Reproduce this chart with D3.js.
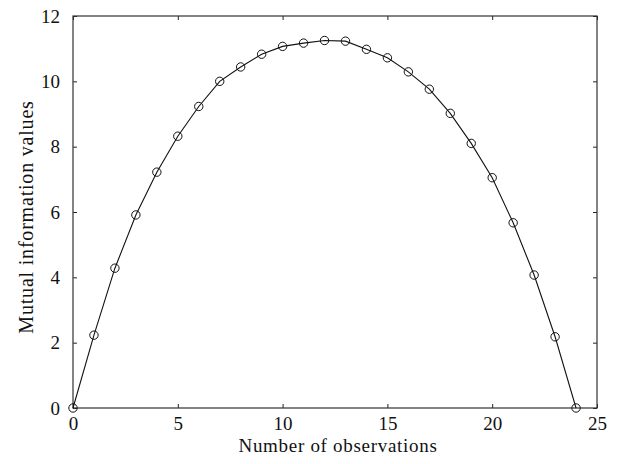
<!DOCTYPE html>
<html>
<head>
<meta charset="utf-8">
<script src="https://cdn.jsdelivr.net/npm/d3@7/dist/d3.min.js"></script>
<style>
  body { margin: 0; background: #fff; }
  svg text { font-family: "Liberation Serif", "DejaVu Serif", serif; fill: #111; }
</style>
</head>
<body>
<svg id="chart" width="619" height="464"></svg>
<script>
// observation count vs. mutual information
var observations = [0,1,2,3,4,5,6,7,8,9,10,11,12,13,14,15,16,17,18,19,20,21,22,23,24];
var miValues = [0, 2.23, 4.28, 5.91, 7.22, 8.32, 9.23, 10.0, 10.44, 10.83, 11.07, 11.17, 11.25, 11.23,
                10.98, 10.72, 10.29, 9.76, 9.02, 8.10, 7.05, 5.67, 4.07, 2.18, 0];
var xTicks = [0, 5, 10, 15, 20, 25];
var yTicks = [0, 2, 4, 6, 8, 10, 12];

var margin = { top: 16, right: 22, bottom: 56, left: 73 },
    width = 619 - margin.left - margin.right,
    height = 464 - margin.top - margin.bottom;

var svg = d3.select("#chart");
var g = svg.append("g")
  .attr("transform", "translate(" + margin.left + "," + margin.top + ")");

var x = d3.scaleLinear().domain([0, 25]).range([0, width]);
var y = d3.scaleLinear().domain([0, 12]).range([height, 0]);

var tickLen = 4;

// bottom axis, ticks point inward
var xAxis = g.append("g")
  .attr("transform", "translate(0," + height + ")")
  .call(d3.axisBottom(x).tickValues(xTicks).tickSize(-tickLen).tickPadding(8.5));
// left axis
var yAxis = g.append("g")
  .call(d3.axisLeft(y).tickValues(yTicks).tickSize(-tickLen).tickPadding(13));
// mirrored ticks on top and right
var xTop = g.append("g")
  .call(d3.axisTop(x).tickValues(xTicks).tickSize(-tickLen).tickFormat(""));
var yRight = g.append("g")
  .attr("transform", "translate(" + width + ",0)")
  .call(d3.axisRight(y).tickValues(yTicks).tickSize(-tickLen).tickFormat(""));

[xAxis, yAxis, xTop, yRight].forEach(function(a) {
  a.select(".domain").remove();
  a.selectAll(".tick line").attr("stroke", "#222").attr("stroke-width", 1);
  a.selectAll(".tick text").style("font-size", "19px").attr("fill", "#111");
});

// frame
g.append("rect")
  .attr("x", 0).attr("y", 0)
  .attr("width", width).attr("height", height)
  .attr("fill", "none")
  .attr("stroke", "#333")
  .attr("stroke-width", 1.2);

var line = d3.line()
  .x(function(d, i) { return x(observations[i]); })
  .y(function(d) { return y(d); });

g.append("path")
  .datum(miValues)
  .attr("d", line)
  .attr("fill", "none")
  .attr("stroke", "#111")
  .attr("stroke-width", 1.1);

g.selectAll(".pt")
  .data(miValues)
  .enter()
  .append("circle")
  .attr("class", "pt")
  .attr("cx", function(d, i) { return x(observations[i]); })
  .attr("cy", function(d) { return y(d); })
  .attr("r", 4.2)
  .attr("fill", "none")
  .attr("stroke", "#111")
  .attr("stroke-width", 1);

// axis titles
svg.append("text")
  .attr("x", 338)
  .attr("y", 452)
  .attr("text-anchor", "middle")
  .style("font-size", "19px")
  .style("letter-spacing", "0.7px")
  .text("Number of observations");

svg.append("text")
  .attr("transform", "translate(33,217) rotate(-90)")
  .attr("text-anchor", "middle")
  .style("font-size", "20px")
  .style("letter-spacing", "0.8px")
  .text("Mutual information values");
</script>
</body>
</html>
